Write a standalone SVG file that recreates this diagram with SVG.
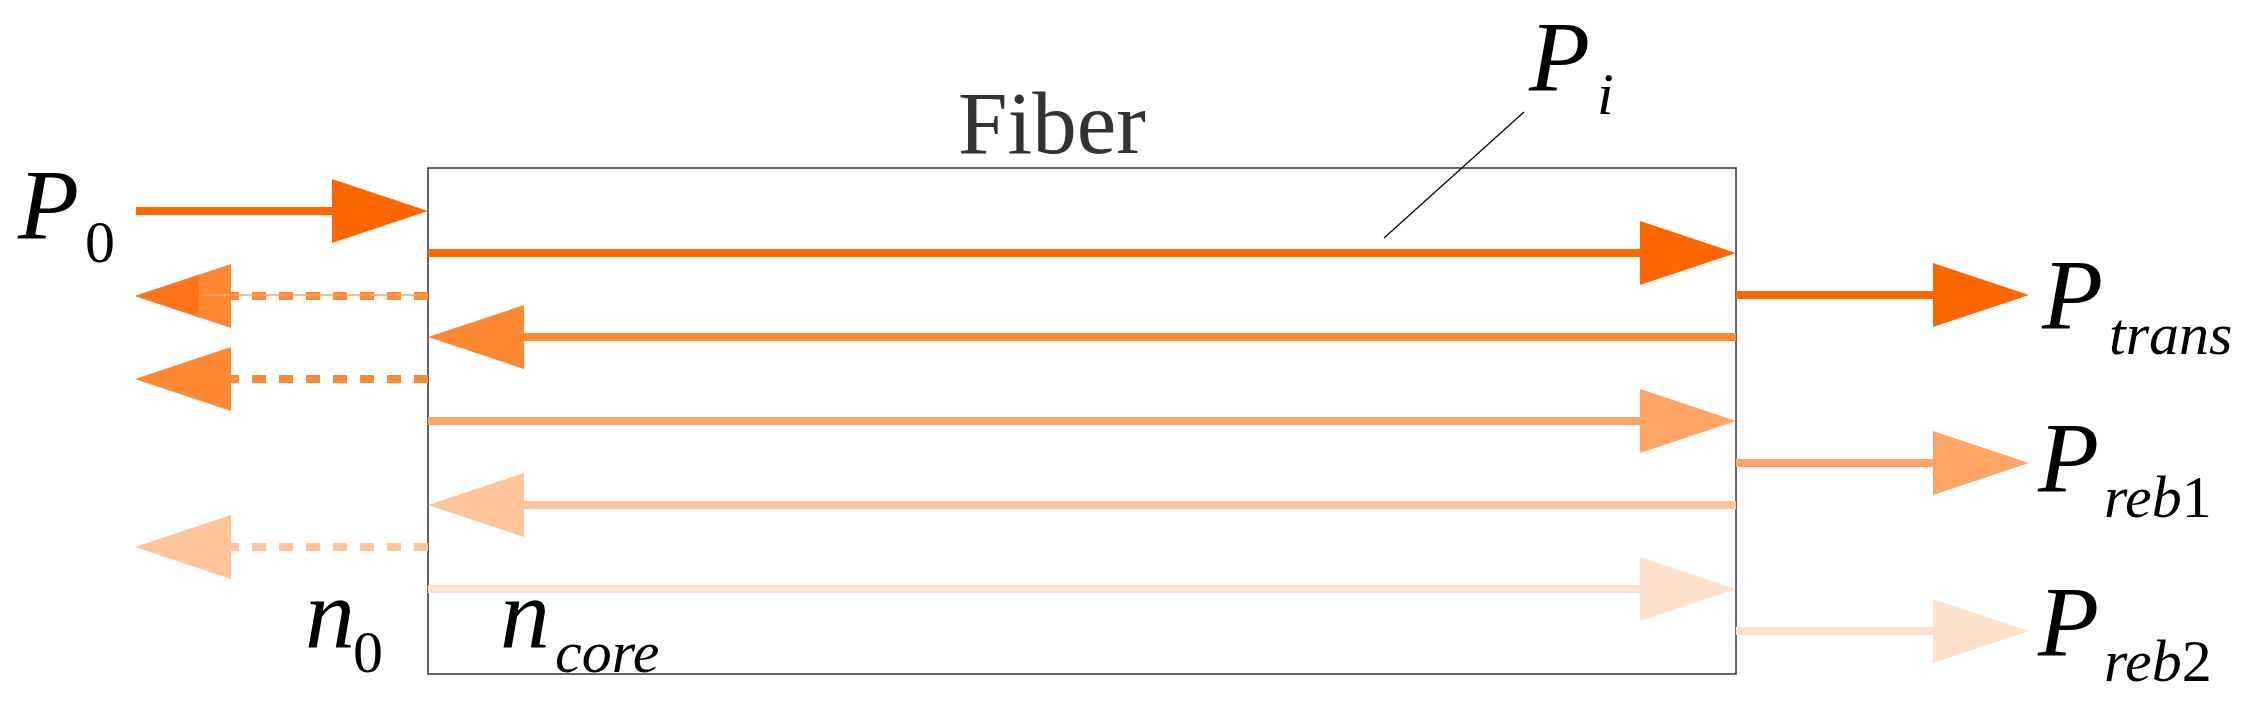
<svg xmlns="http://www.w3.org/2000/svg" width="2246" height="715" viewBox="0 0 2246 715">
<style>
.lab{font-family:"Liberation Serif","Times New Roman",serif;font-style:italic;font-size:100px;fill:#000}
.sub{font-family:"Liberation Serif","Times New Roman",serif;font-style:italic;font-size:60px;fill:#000}
.up{font-style:normal}
.ttl{font-family:"Liberation Serif","Times New Roman",serif;font-size:89px;fill:#333}
.c1{stroke:#FF6600}.c2{stroke:#FF8833}.c3{stroke:#FFA366}.c4{stroke:#FFC499}.c5{stroke:#FFE0CC}
.ln{stroke-width:8;fill:none}
.dash{stroke-dasharray:14 13}
</style>
<defs>
<marker id="h1" markerUnits="userSpaceOnUse" markerWidth="96" markerHeight="64" refX="0" refY="32" orient="auto" overflow="visible"><path d="M0,0 L96,32 L0,64 Z" fill="#FF6600"/></marker>
<marker id="h2" markerUnits="userSpaceOnUse" markerWidth="96" markerHeight="64" refX="0" refY="32" orient="auto" overflow="visible"><path d="M0,0 L96,32 L0,64 Z" fill="#FF8833"/></marker>
<marker id="h3" markerUnits="userSpaceOnUse" markerWidth="96" markerHeight="64" refX="0" refY="32" orient="auto" overflow="visible"><path d="M0,0 L96,32 L0,64 Z" fill="#FFA366"/></marker>
<marker id="h4" markerUnits="userSpaceOnUse" markerWidth="96" markerHeight="64" refX="0" refY="32" orient="auto" overflow="visible"><path d="M0,0 L96,32 L0,64 Z" fill="#FFC499"/></marker>
<marker id="h5" markerUnits="userSpaceOnUse" markerWidth="96" markerHeight="64" refX="0" refY="32" orient="auto" overflow="visible"><path d="M0,0 L96,32 L0,64 Z" fill="#FFE0CC"/></marker>
</defs>
<rect width="2246" height="715" fill="#fff"/>

<g id="fiber">
<rect x="428" y="168" width="1308" height="506" fill="none" stroke="#333" stroke-width="1.5"/>
<text class="ttl" x="958" y="153">Fiber</text>
</g>

<g id="connectors">
<line class="ln c1" x1="136" y1="211" x2="332" y2="211" marker-end="url(#h1)"/>
<line class="ln c1" x1="428" y1="253" x2="1640" y2="253" marker-end="url(#h1)"/>
<line class="ln c1" x1="1736" y1="295" x2="1933" y2="295" marker-end="url(#h1)"/>
<line class="ln c2" x1="1736" y1="337" x2="524" y2="337" marker-end="url(#h2)"/>
<line class="ln c2 dash" x1="428" y1="296" x2="231" y2="296" marker-end="url(#h2)"/>
<line x1="428" y1="295" x2="199" y2="295" stroke="#FFA366" stroke-width="1.5"/>
<polygon points="135,296 199,274.7 199,317.3" fill="#FF761A"/>
<line class="ln c2 dash" x1="428" y1="379" x2="231" y2="379" marker-end="url(#h2)"/>
<line class="ln c3" x1="428" y1="421" x2="1640" y2="421" marker-end="url(#h3)"/>
<line class="ln c3" x1="1736" y1="463" x2="1933" y2="463" marker-end="url(#h3)"/>
<line class="ln c4" x1="1736" y1="505" x2="524" y2="505" marker-end="url(#h4)"/>
<line class="ln c4 dash" x1="428" y1="547" x2="231" y2="547" marker-end="url(#h4)"/>
<line class="ln c5" x1="428" y1="589" x2="1640" y2="589" marker-end="url(#h5)"/>
<line class="ln c5" x1="1736" y1="631" x2="1933" y2="631" marker-end="url(#h5)"/>
<line x1="1384" y1="238" x2="1524" y2="112" stroke="#000" stroke-width="1.2"/>
</g>

<g id="label-P0"><text class="lab" x="18" y="238">P</text><text class="sub up" x="85" y="262">0</text></g>
<g id="label-Pi"><text class="lab" x="1529" y="90">P</text><text class="sub" x="1597" y="114">i</text></g>
<g id="label-Ptrans"><text class="lab" x="2042" y="328">P</text><text class="sub" x="2109" y="354">trans</text></g>
<g id="label-Preb1"><text class="lab" x="2038" y="491">P</text><text class="sub" x="2104" y="517">reb<tspan class="up">1</tspan></text></g>
<g id="label-Preb2"><text class="lab" x="2038" y="655">P</text><text class="sub" x="2104" y="681">reb<tspan class="up">2</tspan></text></g>
<g id="label-n0"><text class="lab" x="305" y="647">n</text><text class="sub up" x="353" y="672">0</text></g>
<g id="label-ncore"><text class="lab" x="500" y="647">n</text><text class="sub" x="555" y="672">core</text></g>
</svg>
